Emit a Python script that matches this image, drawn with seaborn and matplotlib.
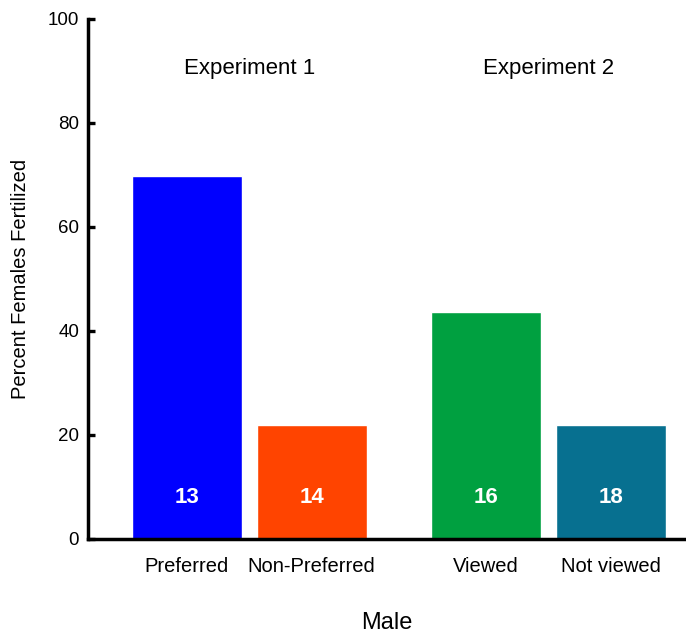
import pandas as pd
import numpy as np
import seaborn as sns
import matplotlib.pyplot as plt

# data
experiments = ["Experiment 1", "Experiment 2"]
males = ["Preferred", "Non-Preferred", "Viewed", "Not viewed"]
pct_fertilized = [69.8, 22.0, 43.6, 22.0]
n_females = [13, 14, 16, 18]
bar_colors = ["#0000FF", "#FF4400", "#00A040", "#077090"]

sns.set_style("white")
plt.rcParams['font.family'] = ['Liberation Sans', 'DejaVu Sans']

# two bars per experiment, wider gap between the experiments
group_gap = 1.392
pos = np.array([0, 1, group_gap + 1, group_gap + 2], dtype=float)

df = pd.DataFrame({"pos": pos, "pct": pct_fertilized, "male": males})

fig = plt.figure(figsize=(6.86, 6.33), dpi=100)
ax = fig.add_axes([0.1276, 0.1485, 0.8724, 0.8215])

sns.barplot(data=df, x="pos", y="pct", hue="male", hue_order=males,
            palette=bar_colors, native_scale=True, dodge=False, width=0.88,
            saturation=1, errorbar=None, legend=False, ax=ax)

for x, n in zip(pos, n_females):
    ax.text(x, 8, str(n), ha="center", va="center", color="white",
            fontsize=16, fontweight="bold")

for i, name in enumerate(experiments):
    ax.text(pos[2 * i:2 * i + 2].mean(), 90.4, name, ha="center", va="center",
            fontsize=16, color="black")

ax.set_xlim(pos[0] - 0.792, pos[0] + 3.992)
ax.set_ylim(0, 100)
ax.set_yticks([0, 20, 40, 60, 80, 100])
ax.set_xticks(pos, males)
ax.tick_params(axis="x", bottom=False, length=0, pad=13, labelsize=14.5,
               labelcolor="black")
ax.tick_params(axis="y", left=True, length=5, width=2.4, direction="in", pad=6,
               labelsize=13.5, labelcolor="black", color="black")
for s in ["top", "right"]:
    ax.spines[s].set_visible(False)
for s in ["left", "bottom"]:
    ax.spines[s].set_linewidth(2.5)
    ax.spines[s].set_color("black")
ax.set_xlabel("Male", fontsize=17, labelpad=26, color="black")
ax.set_ylabel("Percent Females Fertilized", fontsize=14.5, labelpad=13, color="black")

fig.savefig("out.png", dpi=100)
